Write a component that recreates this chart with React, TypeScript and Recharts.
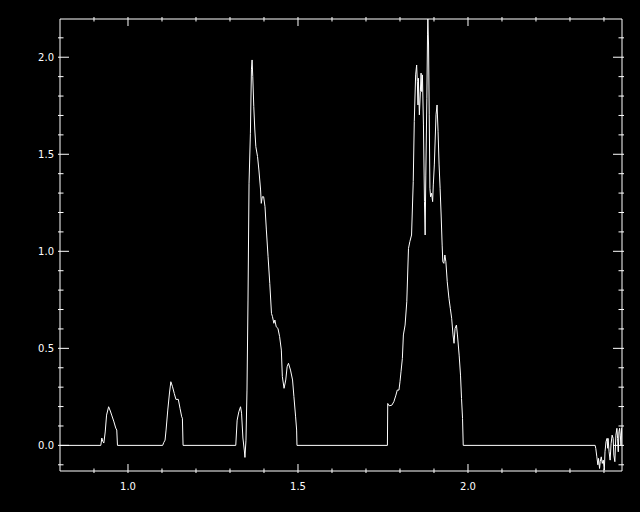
import React from 'react';
import { LineChart, Line, XAxis, YAxis } from 'recharts';

// axis ranges (IDL-style exact ranges)
const xDomain = [0.8, 2.453];
const yDomain = [-0.132, 2.197];

const xTicks = [0.9, 1.0, 1.1, 1.2, 1.3, 1.4, 1.5, 1.6, 1.7, 1.8, 1.9, 2.0, 2.1, 2.2, 2.3, 2.4];
const yTicks = [-0.1, 0.0, 0.1, 0.2, 0.3, 0.4, 0.5, 0.6, 0.7, 0.8, 0.9, 1.0, 1.1, 1.2, 1.3, 1.4, 1.5, 1.6, 1.7, 1.8, 1.9, 2.0, 2.1];

const startX = [0.8];
const startY = [0];

const peak1X = [0.920, 0.923, 0.926, 0.929, 0.933, 0.937, 0.943, 0.948, 0.952, 0.958, 0.964, 0.967, 0.969];
const peak1Y = [0, 0.038, 0.02, 0.012, 0.069, 0.156, 0.199, 0.177, 0.156, 0.125, 0.089, 0.079, 0];

const peak2X = [1.102, 1.105, 1.109, 1.112, 1.117, 1.122, 1.126, 1.131, 1.136, 1.141, 1.148, 1.153, 1.158, 1.160, 1.162];
const peak2Y = [0, 0.014, 0.027, 0.079, 0.182, 0.27, 0.328, 0.302, 0.268, 0.237, 0.237, 0.191, 0.147, 0.14, 0];

const peak3X = [
  1.317, 1.321, 1.326, 1.331, 1.334, 1.338, 1.342, 1.344, 1.347, 1.350, 1.353, 1.356, 1.360, 1.363, 1.365,
  1.367, 1.370, 1.373, 1.376, 1.381, 1.385, 1.390, 1.392, 1.395, 1.399, 1.403, 1.407, 1.412, 1.417, 1.422,
  1.425, 1.429, 1.432, 1.436, 1.441, 1.446, 1.451, 1.454, 1.459, 1.464, 1.468, 1.472, 1.478, 1.484, 1.488,
  1.493, 1.496, 1.497,
];
const peak3Y = [
  0, 0.130, 0.173, 0.199, 0.166, 0.038, -0.024, -0.062, 0.027, 0.285, 0.749, 1.351, 1.608, 1.935, 1.986,
  1.900, 1.745, 1.625, 1.539, 1.488, 1.419, 1.316, 1.247, 1.281, 1.281, 1.230, 1.110, 0.972, 0.835, 0.680,
  0.663, 0.629, 0.646, 0.611, 0.603, 0.560, 0.491, 0.354, 0.294, 0.337, 0.405, 0.423, 0.388, 0.337, 0.251,
  0.147, 0.079, 0,
];

const peak4X = [
  1.763, 1.764, 1.768, 1.776, 1.782, 1.788, 1.792, 1.797, 1.800, 1.803, 1.807, 1.810, 1.815, 1.820, 1.825,
  1.829, 1.834, 1.839, 1.842, 1.846, 1.849, 1.851, 1.853, 1.854, 1.857, 1.860, 1.862, 1.864, 1.866, 1.869,
  1.872, 1.874, 1.876, 1.879, 1.881, 1.882, 1.884, 1.886, 1.888, 1.890, 1.893, 1.896, 1.898, 1.901, 1.906,
  1.909, 1.912, 1.915, 1.918, 1.921, 1.924, 1.926, 1.929, 1.932, 1.935, 1.939, 1.944, 1.948, 1.952, 1.956,
  1.959, 1.962, 1.966, 1.969, 1.974, 1.978, 1.981, 1.984, 1.986,
];
const peak4Y = [
  0, 0.216, 0.204, 0.207, 0.225, 0.259, 0.285, 0.285, 0.328, 0.379, 0.448, 0.569, 0.620, 0.740, 1.015,
  1.050, 1.084, 1.359, 1.668, 1.909, 1.960, 1.874, 1.754, 1.892, 1.703, 1.823, 1.918, 1.823, 1.909, 1.651,
  1.256, 1.084, 1.393, 1.789, 2.115, 2.197, 2.063, 1.703, 1.325, 1.281, 1.299, 1.256, 1.342, 1.445, 1.703,
  1.754, 1.616, 1.445, 1.325, 1.187, 1.032, 0.946, 0.938, 0.981, 0.946, 0.843, 0.758, 0.706, 0.655, 0.569,
  0.526, 0.603, 0.620, 0.569, 0.465, 0.362, 0.242, 0.139, 0,
];

const tailX = [
  2.374, 2.376, 2.379, 2.382, 2.384, 2.387, 2.389, 2.392, 2.395, 2.398, 2.401, 2.403, 2.406, 2.409, 2.411,
  2.412, 2.415, 2.418, 2.421, 2.424, 2.427, 2.429, 2.432, 2.435, 2.438, 2.440, 2.442, 2.444, 2.446, 2.448,
  2.450, 2.452,
];
const tailY = [
  0, -0.017, -0.059, -0.100, -0.067, -0.119, -0.084, -0.059, -0.093, -0.076, -0.127, -0.033, 0.019, 0.036, -0.015,
  0.036, -0.033, -0.076, 0.010, 0.053, 0.036, -0.050, -0.084, 0.053, 0.088, 0.036, -0.033, 0.070, 0.088, 0.053,
  0.0, 0.09,
];

const allX = [...startX, ...peak1X, ...peak2X, ...peak3X, ...peak4X, ...tailX];
const allY = [...startY, ...peak1Y, ...peak2Y, ...peak3Y, ...peak4Y, ...tailY];
const data = allX.map((x, i) => ({ x, y: allY[i] }));

const FONT = 'DejaVu Sans, sans-serif';
const isMajor = (v: number) => Math.abs(v * 2 - Math.round(v * 2)) < 1e-6;

function BottomTick({ x, y, payload }: any) {
  const v = payload.value;
  const major = isMajor(v);
  return (
    <g>
      <line x1={x} x2={x} y1={y} y2={y - (major ? 9 : 4.5)} stroke="#ffffff" />
      {major && (
        <text x={x} y={y + 17} textAnchor="middle" fill="#ffffff" fontSize={10} fontFamily={FONT}>
          {v.toFixed(1)}
        </text>
      )}
    </g>
  );
}

function TopTick({ x, y, payload }: any) {
  const major = isMajor(payload.value);
  return <line x1={x} x2={x} y1={y} y2={y + (major ? 9 : 4.5)} stroke="#ffffff" />;
}

function LeftTick({ x, y, payload }: any) {
  const v = payload.value;
  const major = isMajor(v);
  return (
    <g>
      <line x1={x} x2={x + (major ? 11 : 5.5)} y1={y} y2={y} stroke="#ffffff" />
      {major && (
        <text x={x - 4} y={y + 3.5} textAnchor="end" fill="#ffffff" fontSize={10} fontFamily={FONT}>
          {Math.abs(v).toFixed(1)}
        </text>
      )}
    </g>
  );
}

function RightTick({ x, y, payload }: any) {
  const major = isMajor(payload.value);
  return <line x1={x} x2={x - (major ? 11 : 5.5)} y1={y} y2={y} stroke="#ffffff" />;
}

export default function App() {
  return (
    <div style={{ position: 'fixed', left: 0, top: 0, width: 640, height: 512, background: '#000000' }}>
      <LineChart width={640} height={512} data={data} margin={{ top: 0, right: 0, bottom: 0, left: 0 }}>
        <XAxis
          dataKey="x"
          type="number"
          domain={xDomain}
          allowDataOverflow
          ticks={xTicks}
          interval={0}
          height={41}
          tickSize={0}
          tickLine={false}
          axisLine={{ stroke: '#ffffff' }}
          tick={(p: any) => <BottomTick {...p} />}
        />
        <XAxis
          xAxisId="top"
          orientation="top"
          dataKey="x"
          type="number"
          domain={xDomain}
          allowDataOverflow
          ticks={xTicks}
          interval={0}
          height={19}
          tickSize={0}
          tickLine={false}
          axisLine={{ stroke: '#ffffff' }}
          tick={(p: any) => <TopTick {...p} />}
        />
        <YAxis
          type="number"
          domain={yDomain}
          allowDataOverflow
          ticks={yTicks}
          interval={0}
          width={60}
          tickSize={0}
          tickLine={false}
          axisLine={{ stroke: '#ffffff' }}
          tick={(p: any) => <LeftTick {...p} />}
        />
        <YAxis
          yAxisId="right"
          orientation="right"
          type="number"
          domain={yDomain}
          allowDataOverflow
          ticks={yTicks}
          interval={0}
          width={18}
          tickSize={0}
          tickLine={false}
          axisLine={{ stroke: '#ffffff' }}
          tick={(p: any) => <RightTick {...p} />}
        />
        <Line
          dataKey="y"
          type="linear"
          stroke="#ffffff"
          strokeWidth={1}
          dot={false}
          isAnimationActive={false}
        />
      </LineChart>
    </div>
  );
}
